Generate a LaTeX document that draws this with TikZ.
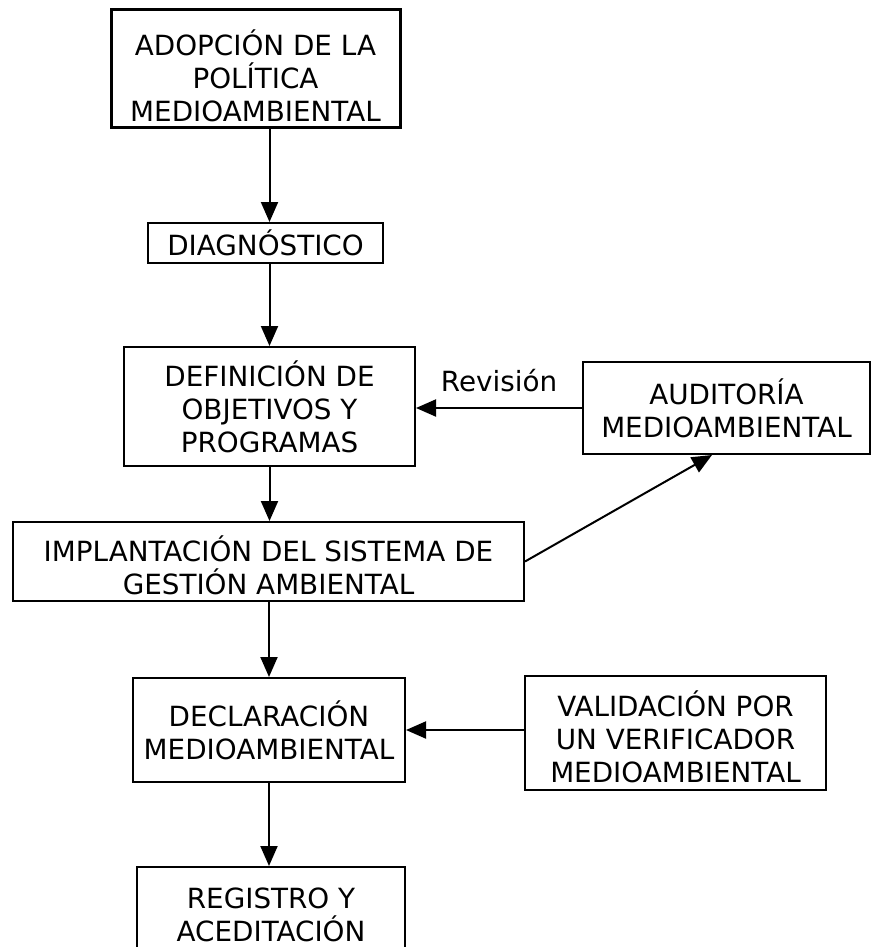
\documentclass[tikz,border=0pt]{standalone}
\usepackage{fontspec}
\setmainfont{DejaVu Sans}
\usetikzlibrary{arrows.meta}

\begin{document}
\begin{tikzpicture}[x=0.5pt, y=-0.5pt]
        % Define styles for boxes and arrows
        \tikzset{
            caja/.style={draw, line width=1pt, align=center, inner sep=0pt,
                font=\fontsize{13.9pt}{16.5pt}\selectfont},
            flecha/.style={line width=1pt, -{Triangle[length=10pt, width=8.5pt]}}
        }
        \useasboundingbox (0,0) rectangle (871,947);
        % Boxes of the main column
        \node[caja, line width=1.5pt, minimum width=144.5pt, minimum height=59pt] (adopcion) at (255.5, 69) {%
            \rule{0pt}{20pt}ADOPCIÓN DE LA\\ POLÍTICA\\ MEDIOAMBIENTAL};
        \node[caja, minimum width=117.5pt, minimum height=20pt] (diagnostico) at (265.5, 243) {DIAGNÓSTICO};
        \node[caja, minimum width=145.5pt, minimum height=59.5pt] (definicion) at (269.5, 406.5) {%
            DEFINICIÓN DE\\ OBJETIVOS Y\\ PROGRAMAS};
        \node[caja, minimum width=255.5pt, minimum height=39.5pt] (implantacion) at (268.5, 561.5) {%
            \rule{0pt}{17pt}IMPLANTACIÓN DEL SISTEMA DE\\ GESTIÓN AMBIENTAL};
        \node[caja, minimum width=136pt, minimum height=52pt] (declaracion) at (269, 730) {%
            DECLARACIÓN\\ MEDIOAMBIENTAL};
        \node[caja, minimum width=134pt, minimum height=48pt] (registro) at (271, 915) {%
            REGISTRO Y\\ ACEDITACIÓN};
        % Boxes on the right
        \node[caja, minimum width=143.5pt, minimum height=46pt] (auditoria) at (726.5, 408) {%
            AUDITORÍA\\ MEDIOAMBIENTAL};
        \node[caja, minimum width=150.5pt, minimum height=57pt] (validacion) at (675.5, 733) {%
            \rule{0pt}{17pt}VALIDACIÓN POR\\ UN VERIFICADOR\\ MEDIOAMBIENTAL};
        % Draw arrows
        \draw[flecha] (adopcion.south -| definicion.north) -- (diagnostico.north -| definicion.north);
        \draw[flecha] (diagnostico.south -| definicion.north) -- (definicion.north);
        \draw[flecha] (definicion.south) -- (definicion.south |- implantacion.north);
        \draw[flecha] (implantacion.south -| declaracion.north) -- (declaracion.north);
        \draw[flecha] (declaracion.south) -- (declaracion.south |- registro.north);
        \draw[flecha] (implantacion.east) -- ([xshift=-7.25pt]auditoria.south);
        \draw[flecha] (auditoria.west) -- (auditoria.west -| definicion.east)
            node[midway, above=4pt, font=\fontsize{13.9pt}{16.5pt}\selectfont] (revision) {Revisión};
        \draw[flecha] (validacion.west |- declaracion.east) -- (declaracion.east);
    \end{tikzpicture}
\end{document}
